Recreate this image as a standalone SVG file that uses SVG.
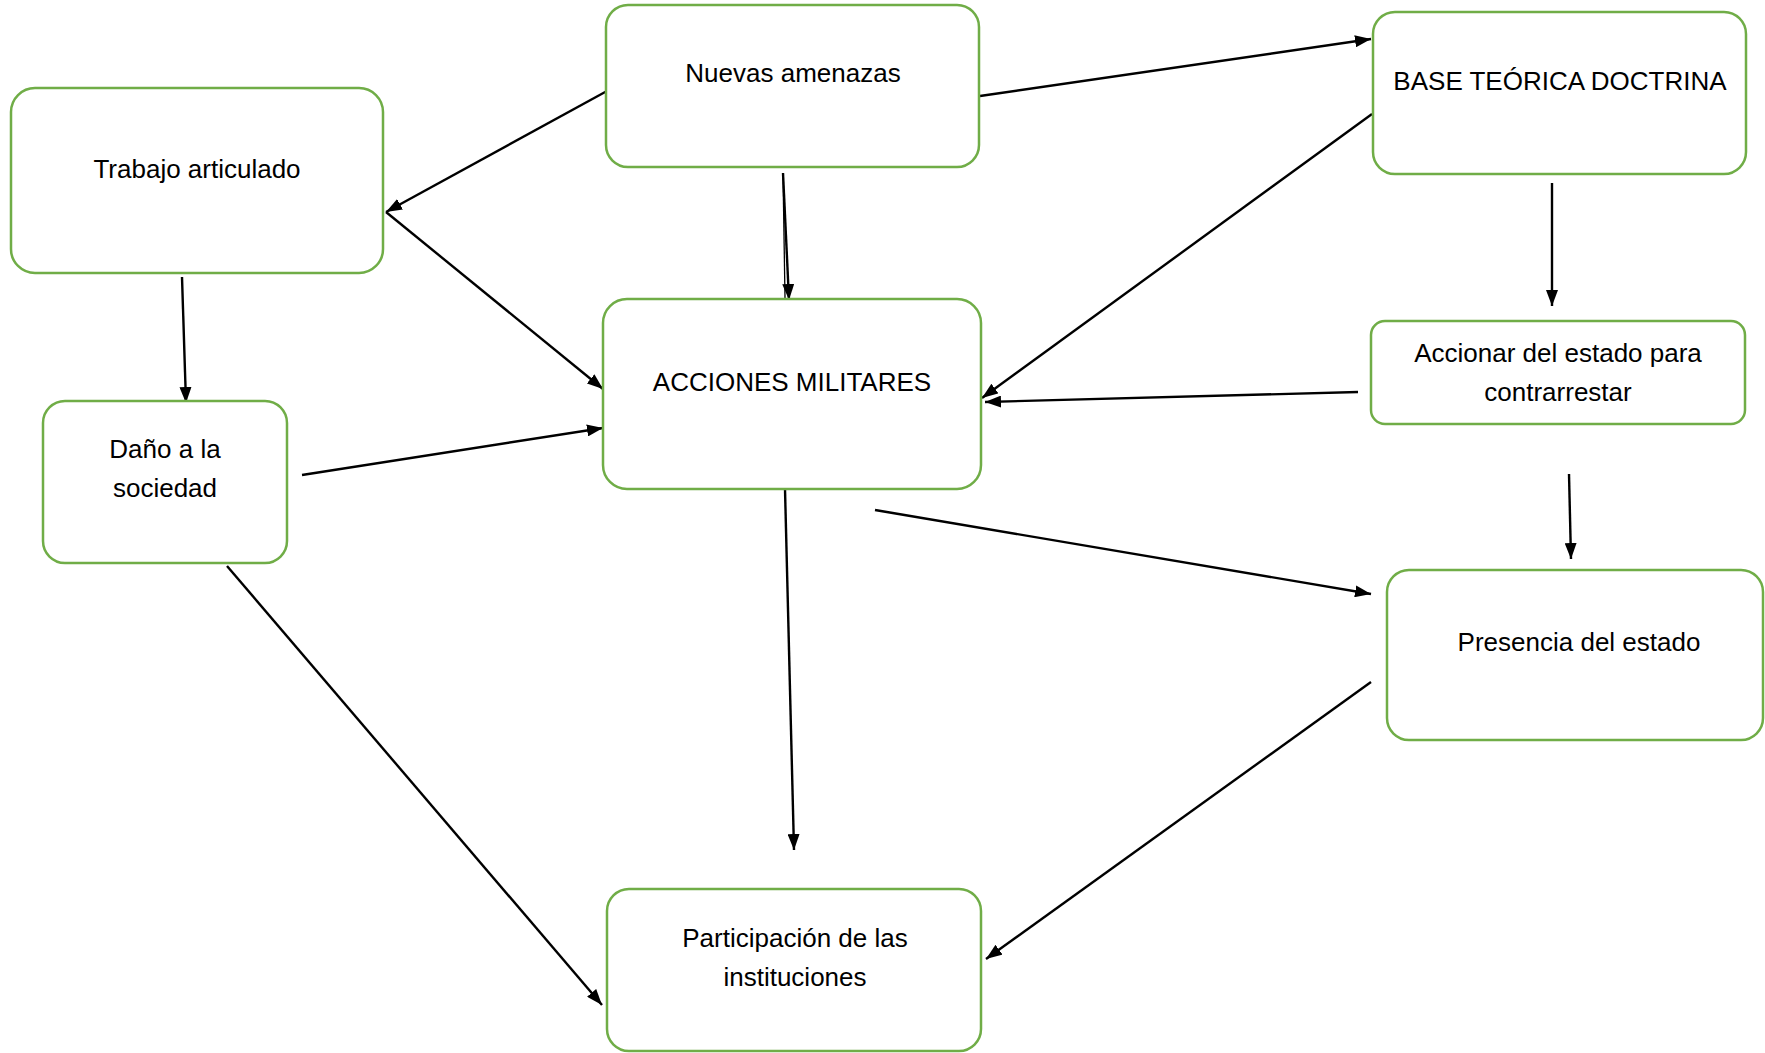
<svg xmlns="http://www.w3.org/2000/svg" width="1765" height="1053" viewBox="0 0 1765 1053">
<style>
.box{fill:#fff;stroke:#70AD47;stroke-width:2.5}
.lbl{font-family:"Liberation Sans",Arial,sans-serif;font-size:26px;fill:#000;text-anchor:middle}
.c{stroke:#000;stroke-width:2.4;fill:none;marker-end:url(#ah)}
.t{stroke:#000;stroke-width:1.3;fill:none}
</style>
<defs>
<marker id="ah" viewBox="0 0 16 12" refX="16" refY="6" markerWidth="16" markerHeight="12" markerUnits="userSpaceOnUse" orient="auto">
<path d="M0,0 L16,6 L0,12 z" fill="#000"/>
</marker>
</defs>
<rect width="1765" height="1053" fill="#fff"/>
<g id="connectors">
<line class="c" x1="607" y1="91" x2="386" y2="212"/>
<line class="c" x1="386" y1="212" x2="603" y2="389"/>
<line class="t" x1="783" y1="173" x2="785" y2="298"/>
<line class="c" x1="783" y1="173" x2="789" y2="300"/>
<line class="c" x1="980" y1="96" x2="1371" y2="39"/>
<line class="c" x1="1372" y1="114" x2="982" y2="398"/>
<line class="c" x1="1552" y1="183" x2="1552" y2="306"/>
<line class="c" x1="1358" y1="392" x2="985" y2="402"/>
<line class="c" x1="302" y1="475" x2="603" y2="428"/>
<line class="c" x1="182" y1="277" x2="186" y2="403"/>
<line class="c" x1="875" y1="510" x2="1371" y2="594"/>
<line class="c" x1="1569" y1="474" x2="1571" y2="559"/>
<line class="c" x1="785" y1="489" x2="794" y2="850"/>
<line class="c" x1="227" y1="566" x2="602" y2="1005"/>
<line class="c" x1="1371" y1="682" x2="986" y2="959"/>
</g>
<g id="nuevas">
<rect class="box" x="606" y="5" width="373" height="162" rx="22"/>
<text class="lbl" x="793" y="82">Nuevas amenazas</text>
</g>
<g id="trabajo">
<rect class="box" x="11" y="88" width="372" height="185" rx="24"/>
<text class="lbl" x="197" y="178">Trabajo articulado</text>
</g>
<g id="base">
<rect class="box" x="1373" y="12" width="373" height="162" rx="22"/>
<text class="lbl" x="1560" y="90">BASE TEÓRICA DOCTRINA</text>
</g>
<g id="acciones">
<rect class="box" x="603" y="299" width="378" height="190" rx="24"/>
<text class="lbl" x="792" y="391">ACCIONES MILITARES</text>
</g>
<g id="accionar">
<rect class="box" x="1371" y="321" width="374" height="103" rx="14"/>
<text class="lbl" x="1558" y="362">Accionar del estado para</text>
<text class="lbl" x="1558" y="401">contrarrestar</text>
</g>
<g id="dano">
<rect class="box" x="43" y="401" width="244" height="162" rx="22"/>
<text class="lbl" x="165" y="458">Daño a la</text>
<text class="lbl" x="165" y="497">sociedad</text>
</g>
<g id="presencia">
<rect class="box" x="1387" y="570" width="376" height="170" rx="22"/>
<text class="lbl" x="1579" y="651">Presencia del estado</text>
</g>
<g id="participacion">
<rect class="box" x="607" y="889" width="374" height="162" rx="22"/>
<text class="lbl" x="795" y="947">Participación de las</text>
<text class="lbl" x="795" y="986">instituciones</text>
</g>
</svg>
